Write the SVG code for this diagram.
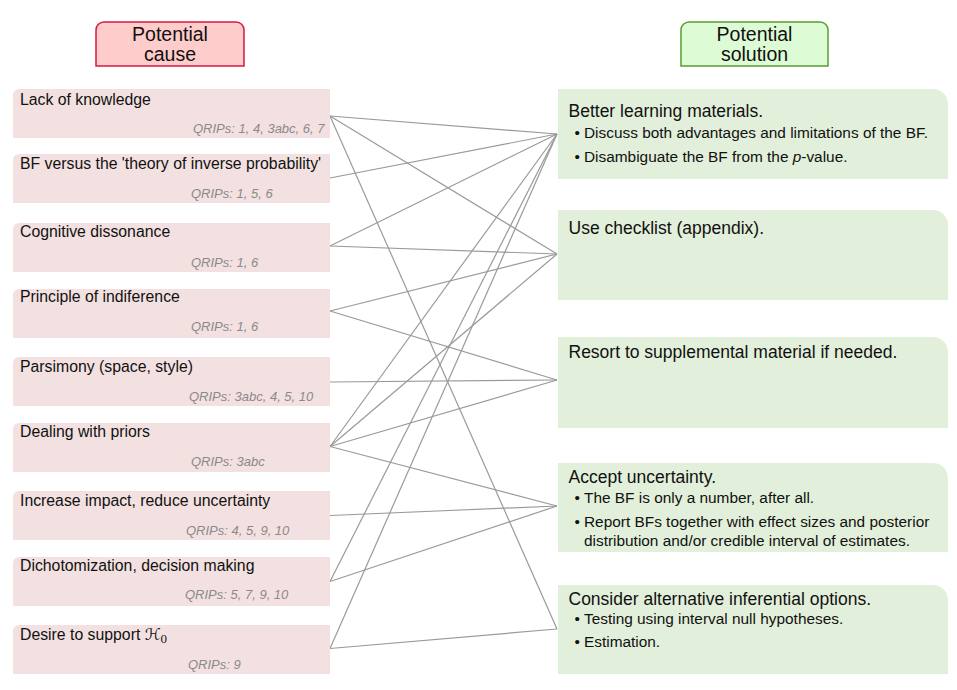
<svg xmlns="http://www.w3.org/2000/svg" width="957" height="690" viewBox="0 0 957 690">
<style>
  text { font-family: "Liberation Sans", Arial, sans-serif; fill: #111; }
  .hdr { font-size: 19.5px; text-anchor: middle; }
  .cause { fill: #f3e1e1; }
  .sol { fill: #e2efda; }
  .ct { font-size: 15.8px; }
  .q { font-size: 13px; font-style: italic; fill: #8a8a8a; }
  .st { font-size: 17.5px; }
  .b { font-size: 15.4px; }
  .conn line { stroke: #9a9a9a; stroke-width: 1.2; fill: none; }
</style>
<rect width="957" height="690" fill="#ffffff"/>

<g id="header-cause">
  <path d="M96,66 V30 a8,8 0 0 1 8,-8 H236 a8,8 0 0 1 8,8 V66 Z" fill="#ffcccc" stroke="#d8183f" stroke-width="1.5"/>
  <text class="hdr" x="170" y="40.7">Potential</text>
  <text class="hdr" x="170" y="61">cause</text>
</g>
<g id="header-solution">
  <path d="M681,66 V30 a8,8 0 0 1 8,-8 H820 a8,8 0 0 1 8,8 V66 Z" fill="#ddfbd5" stroke="#5a9c34" stroke-width="1.5"/>
  <text class="hdr" x="754.5" y="40.7">Potential</text>
  <text class="hdr" x="754.5" y="60.7">solution</text>
</g>

<g class="conn" id="connectors">
  <line x1="330" y1="116" x2="557" y2="134"/>
  <line x1="330" y1="116" x2="557" y2="254"/>
  <line x1="330" y1="116" x2="557" y2="629"/>
  <line x1="330" y1="178" x2="557" y2="134"/>
  <line x1="330" y1="246" x2="557" y2="134"/>
  <line x1="330" y1="246" x2="557" y2="254"/>
  <line x1="330" y1="311" x2="557" y2="254"/>
  <line x1="330" y1="311" x2="557" y2="380"/>
  <line x1="330" y1="382" x2="557" y2="380"/>
  <line x1="330" y1="446.5" x2="557" y2="134"/>
  <line x1="330" y1="446.5" x2="557" y2="254"/>
  <line x1="330" y1="446.5" x2="557" y2="380"/>
  <line x1="330" y1="446.5" x2="557" y2="506"/>
  <line x1="330" y1="515.5" x2="557" y2="506"/>
  <line x1="330" y1="581.5" x2="557" y2="134"/>
  <line x1="330" y1="581.5" x2="557" y2="506"/>
  <line x1="330" y1="648.5" x2="557" y2="134"/>
  <line x1="330" y1="648.5" x2="557" y2="629"/>
</g>

<g id="cause-lack">
  <path class="cause" d="M13,95 a6,6 0 0 1 6,-6 H330 V138 H13 Z"/>
  <text class="ct" x="20" y="104.5">Lack of knowledge</text>
  <text class="q" x="193" y="132.7">QRIPs: 1, 4, 3abc, 6, 7</text>
</g>
<g id="cause-bf">
  <path class="cause" d="M13,160 a6,6 0 0 1 6,-6 H330 V203 H13 Z"/>
  <text class="ct" x="20" y="168.5">BF versus the 'theory of inverse probability'</text>
  <text class="q" x="191" y="198.3">QRIPs: 1, 5, 6</text>
</g>
<g id="cause-cognitive">
  <path class="cause" d="M13,229 a6,6 0 0 1 6,-6 H330 V272 H13 Z"/>
  <text class="ct" x="20" y="237">Cognitive dissonance</text>
  <text class="q" x="191" y="266.5">QRIPs: 1, 6</text>
</g>
<g id="cause-principle">
  <path class="cause" d="M13,295 a6,6 0 0 1 6,-6 H330 V338 H13 Z"/>
  <text class="ct" x="20" y="302">Principle of indiference</text>
  <text class="q" x="191" y="331">QRIPs: 1, 6</text>
</g>
<g id="cause-parsimony">
  <path class="cause" d="M13,363 a6,6 0 0 1 6,-6 H330 V406 H13 Z"/>
  <text class="ct" x="20" y="372">Parsimony (space, style)</text>
  <text class="q" x="189" y="401">QRIPs: 3abc, 4, 5, 10</text>
</g>
<g id="cause-priors">
  <path class="cause" d="M13,429 a6,6 0 0 1 6,-6 H330 V472 H13 Z"/>
  <text class="ct" x="20" y="436.5">Dealing with priors</text>
  <text class="q" x="191" y="466">QRIPs: 3abc</text>
</g>
<g id="cause-impact">
  <path class="cause" d="M13,497 a6,6 0 0 1 6,-6 H330 V540 H13 Z"/>
  <text class="ct" x="20" y="505.5">Increase impact, reduce uncertainty</text>
  <text class="q" x="186" y="534.5">QRIPs: 4, 5, 9, 10</text>
</g>
<g id="cause-dichotomization">
  <path class="cause" d="M13,563 a6,6 0 0 1 6,-6 H330 V606 H13 Z"/>
  <text class="ct" x="20" y="571">Dichotomization, decision making</text>
  <text class="q" x="185" y="599.3">QRIPs: 5, 7, 9, 10</text>
</g>
<g id="cause-desire">
  <path class="cause" d="M13,631 a6,6 0 0 1 6,-6 H330 V674 H13 Z"/>
  <text class="ct" x="20" y="639.5">Desire to support <tspan font-family="'DejaVu Sans', serif" font-size="16px">ℋ</tspan><tspan font-family="'Liberation Serif', serif" font-size="13px" dy="3">0</tspan></text>
  <text class="q" x="188" y="669">QRIPs: 9</text>
</g>

<g id="solution-learning">
  <path class="sol" d="M558,89 H933 a15,15 0 0 1 15,15 V179 H558 Z"/>
  <text class="st" x="568.5" y="117">Better learning materials.</text>
  <text class="b" x="574.5" y="137.7">•</text>
  <text class="b" x="584" y="137.7">Discuss both advantages and limitations of the BF.</text>
  <text class="b" x="574.5" y="161.7">•</text>
  <text class="b" x="584" y="161.7">Disambiguate the BF from the <tspan font-style="italic">p</tspan>-value.</text>
</g>
<g id="solution-checklist">
  <path class="sol" d="M558,210 H933 a15,15 0 0 1 15,15 V300 H558 Z"/>
  <text class="st" x="568.5" y="234">Use checklist (appendix).</text>
</g>
<g id="solution-supplemental">
  <path class="sol" d="M558,337 H933 a15,15 0 0 1 15,15 V428 H558 Z"/>
  <text class="st" x="568.5" y="358.3">Resort to supplemental material if needed.</text>
</g>
<g id="solution-uncertainty">
  <path class="sol" d="M558,463 H933 a15,15 0 0 1 15,15 V552 H558 Z"/>
  <text class="st" x="568.5" y="483">Accept uncertainty.</text>
  <text class="b" x="574.5" y="502.7">•</text>
  <text class="b" x="584" y="502.7">The BF is only a number, after all.</text>
  <text class="b" x="574.5" y="527.3">•</text>
  <text class="b" x="584" y="527.3">Report BFs together with effect sizes and posterior</text>
  <text class="b" x="584" y="545.7">distribution and/or credible interval of estimates.</text>
</g>
<g id="solution-alternatives">
  <path class="sol" d="M558,585 H933 a15,15 0 0 1 15,15 V674 H558 Z"/>
  <text class="st" x="568.5" y="605">Consider alternative inferential options.</text>
  <text class="b" x="574.5" y="624">•</text>
  <text class="b" x="584" y="624">Testing using interval null hypotheses.</text>
  <text class="b" x="574.5" y="646.7">•</text>
  <text class="b" x="584" y="646.7">Estimation.</text>
</g>
</svg>
